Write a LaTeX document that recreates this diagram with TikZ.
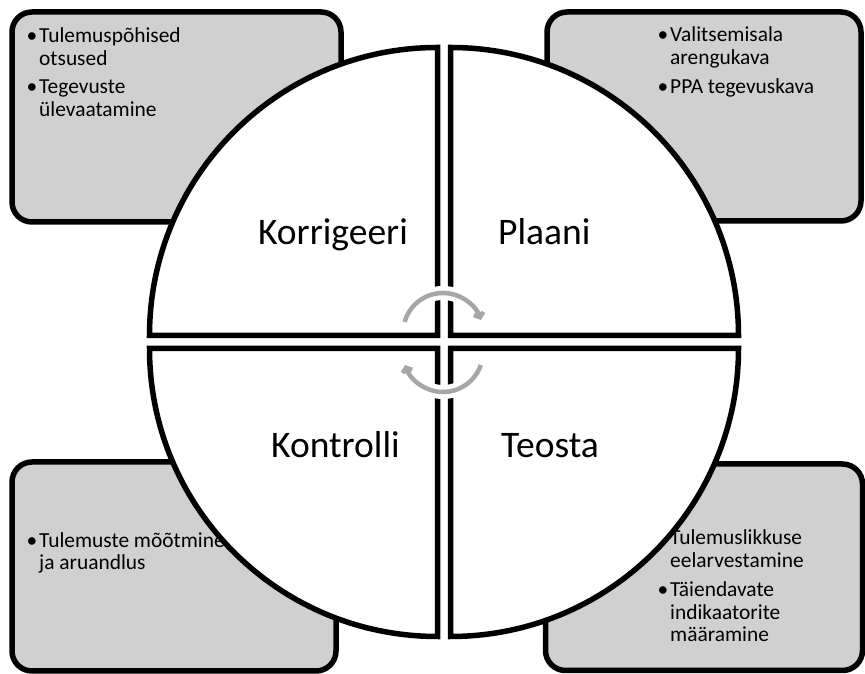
\documentclass[tikz,border=0pt]{standalone}
\usepackage{fontspec}
\setmainfont{Carlito}
\usetikzlibrary{arrows.meta}
\definecolor{boxgray}{RGB}{208,208,208}
\definecolor{cyclegray}{RGB}{166,166,166}
\tikzset{
  infobox/.style={draw=black, line width=5.5pt, fill=boxgray, rounded corners=20pt},
  quadrant/.style={draw=black, line width=5.5pt, fill=white},
  phase/.style={font=\fontsize{37.5}{44}\selectfont, inner sep=0pt},
  itemline/.style={font=\fontsize{21.4}{23}\selectfont, inner sep=0pt, anchor=base west},
  bulletmark/.style={font=\fontsize{21.4}{23}\selectfont, inner sep=0pt, anchor=base},
  cyclehalo/.style={draw=white, line width=14pt},
  cyclearc/.style={draw=cyclegray, line width=4.5pt, -{Straight Barb[length=4pt,width=10pt]}}
}
\begin{document}
\begin{tikzpicture}[x=1pt,y=1pt]
\useasboundingbox (0,0) rectangle (865,674);

% background boxes in the four corners
\draw[infobox] (12,452) rectangle (341,662);
\draw[infobox] (547,453) rectangle (861,662);
\draw[infobox] (12,3) rectangle (336,212);
\draw[infobox] (545.5,3.5) rectangle (862.5,210);

% bullet texts
\node[bulletmark] (b1) at (32,631) {•};
\node[itemline] (t1) at (39,631) {Tulemuspõhised};
\node[itemline] (t2) at (39,608) {otsused};
\node[bulletmark] (b2) at (32,580) {•};
\node[itemline] (t3) at (39,580) {Tegevuste};
\node[itemline] (t4) at (39,557) {ülevaatamine};

\node[bulletmark] (b3) at (663,632) {•};
\node[itemline] (t5) at (670,632) {Valitsemisala};
\node[itemline] (t6) at (670,609) {arengukava};
\node[bulletmark] (b4) at (663,580) {•};
\node[itemline] (t7) at (670,580) {PPA tegevuskava};

\node[bulletmark] (b5) at (32,126) {•};
\node[itemline] (t8) at (39,126) {Tulemuste mõõtmine};
\node[itemline] (t9) at (39,104) {ja aruandlus};

\node[bulletmark] (b6) at (663,129) {•};
\node[itemline] (t10) at (670,129) {Tulemuslikkuse};
\node[itemline] (t11) at (670,106) {eelarvestamine};
\node[bulletmark] (b7) at (663,77) {•};
\node[itemline] (t12) at (670,77) {Täiendavate};
\node[itemline] (t13) at (670,54) {indikaatorite};
\node[itemline] (t14) at (670,32) {määramine};

% the four quarter circles
\coordinate (qa) at (437.5,338.5);
\coordinate (qb) at (450.5,338.5);
\coordinate (qc) at (437.5,325.5);
\coordinate (qd) at (450.5,325.5);
\draw[quadrant] (qa) -- ++(-288,0) arc[start angle=180,end angle=90,radius=288] -- cycle;
\draw[quadrant] (qb) -- ++(0,288) arc[start angle=90,end angle=0,radius=288] -- cycle;
\draw[quadrant] (qc) -- ++(-288,0) arc[start angle=180,end angle=270,radius=288] -- cycle;
\draw[quadrant] (qd) -- ++(288,0) arc[start angle=0,end angle=-90,radius=288] -- cycle;

% phase labels
\node[phase, anchor=base east] (korr) at (408,429) {Korrigeeri};
\node[phase, anchor=base west] (plaa) at (498,429) {Plaani};
\node[phase, anchor=base east] (kont) at (400,216) {Kontrolli};
\node[phase, anchor=base west] (teos) at (501,216) {Teosta};

% cycle arrows in the middle
\coordinate (cu) at (404.55,352.03);
\coordinate (cl) at (480.82,308.98);
\draw[cyclehalo] (cu) arc[start angle=164,end angle=19,radius=40];
\draw[cyclehalo] (cl) arc[start angle=-19,end angle=-161,radius=40];
\draw[cyclearc] (cu) arc[start angle=164,end angle=19,radius=40];
\draw[cyclearc] (cl) arc[start angle=-19,end angle=-161,radius=40];
\end{tikzpicture}
\end{document}
